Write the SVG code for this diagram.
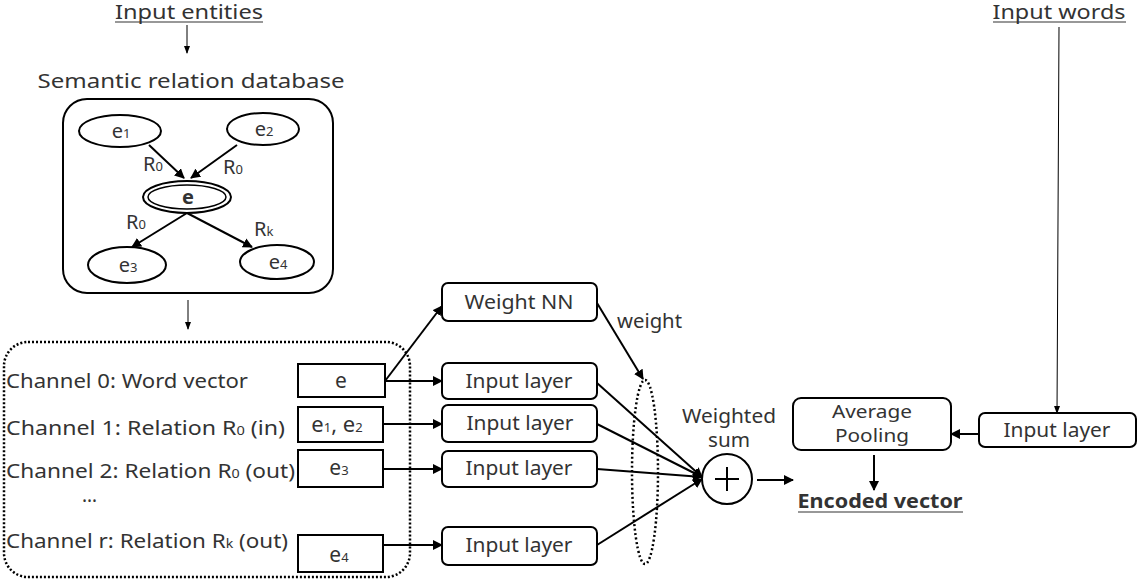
<svg xmlns="http://www.w3.org/2000/svg" width="1142" height="579" viewBox="0 0 1142 579">
<style>
text{font-family:"Noto Sans","Liberation Sans",sans-serif;fill:#333;}
.t{font-size:20px;}
.m{font-size:19px;}
.l{font-size:20px;}
.c{text-anchor:middle;}
.sub{font-size:12px;}
.sb{font-size:13px;}
.box{fill:#fff;stroke:#000;stroke-width:2;}
.ln{stroke:#000;stroke-width:2;fill:none;}
.thin{stroke:#000;stroke-width:1;fill:none;}
.ul{stroke:#333;stroke-width:1.2;}
</style>
<defs>
<marker id="ah" markerWidth="10" markerHeight="10" refX="9" refY="5" orient="auto" markerUnits="userSpaceOnUse">
<path d="M0,0 L10,5 L0,10 Z" fill="#000"/>
</marker>
<marker id="as" markerWidth="8" markerHeight="8" refX="7" refY="4" orient="auto" markerUnits="userSpaceOnUse">
<path d="M0,1 L8,4 L0,7 Z" fill="#000"/>
</marker>
</defs>
<rect width="1142" height="579" fill="#fff"/>

<g id="input-entities">
<text class="t c" x="189" y="19" textLength="148" lengthAdjust="spacingAndGlyphs">Input entities</text>
<line class="ul" x1="115" y1="22" x2="263" y2="22"/>
</g>
<g id="input-words">
<text class="t c" x="1059" y="19" textLength="133" lengthAdjust="spacingAndGlyphs">Input words</text>
<line class="ul" x1="993" y1="22" x2="1126" y2="22"/>
</g>

<g id="database">
<text class="t c" x="191" y="88" font-size="21" textLength="307" lengthAdjust="spacingAndGlyphs">Semantic relation database</text>
<rect x="63" y="99" width="270" height="194" rx="24" fill="#fff" stroke="#000" stroke-width="2"/>
<g id="n-e1"><ellipse class="box" cx="120" cy="131" rx="41" ry="16"/><text class="l c" x="121" y="138">e<tspan class="sb">1</tspan></text></g>
<g id="n-e2"><ellipse class="box" cx="263" cy="129" rx="36" ry="16"/><text class="l c" x="264" y="136">e<tspan class="sb">2</tspan></text></g>
<g id="n-e"><ellipse class="box" cx="187" cy="197" rx="44" ry="16"/><ellipse fill="none" stroke="#000" stroke-width="1.5" cx="187" cy="197" rx="39" ry="12"/><text class="l c" x="188" y="204" font-weight="bold" fill="#222">e</text></g>
<g id="n-e3"><ellipse class="box" cx="127" cy="265" rx="39" ry="18"/><text class="l c" x="128" y="272">e<tspan class="sb">3</tspan></text></g>
<g id="n-e4"><ellipse class="box" cx="277" cy="262" rx="37" ry="17"/><text class="l c" x="278" y="269">e<tspan class="sb">4</tspan></text></g>
<text class="l" x="143" y="171">R<tspan class="sb">0</tspan></text>
<text class="l" x="223" y="174">R<tspan class="sb">0</tspan></text>
<text class="l" x="126" y="229">R<tspan class="sb">0</tspan></text>
<text class="l" x="254" y="236">R<tspan class="sb">k</tspan></text>
</g>

<g id="channels">
<rect x="4" y="342" width="406" height="235" rx="24" fill="none" stroke="#000" stroke-width="2.5" stroke-dasharray="2 2"/>
<text class="m" x="6" y="388" font-size="20" textLength="242" lengthAdjust="spacingAndGlyphs">Channel 0: Word vector</text>
<text class="m" x="6" y="435" font-size="20" textLength="279" lengthAdjust="spacingAndGlyphs">Channel 1: Relation R<tspan class="sub">0</tspan> (in)</text>
<text class="m" x="6" y="478" font-size="20" textLength="289" lengthAdjust="spacingAndGlyphs">Channel 2: Relation R<tspan class="sub">0</tspan> (out)</text>
<text class="m" x="82" y="502" font-size="20">…</text>
<text class="m" x="6" y="548" font-size="20" textLength="282" lengthAdjust="spacingAndGlyphs">Channel r: Relation R<tspan class="sub">k</tspan> (out)</text>
<g id="b-e"><rect class="box" x="298" y="364" width="87" height="33"/><text class="c" font-size="21" x="341" y="388">e</text></g>
<g id="b-e12"><rect class="box" x="298" y="407" width="85" height="35"/><text class="c" font-size="22" x="337" y="432">e<tspan class="sb">1</tspan>, e<tspan class="sb">2</tspan></text></g>
<g id="b-e3"><rect class="box" x="298" y="450" width="85" height="37"/><text class="c" font-size="21" x="339" y="475">e<tspan class="sb">3</tspan></text></g>
<g id="b-e4"><rect class="box" x="298" y="535" width="85" height="37"/><text class="c" font-size="21" x="339" y="562">e<tspan class="sb">4</tspan></text></g>
</g>

<g id="weight-nn"><rect class="box" x="442" y="283" width="155" height="38" rx="6"/><text class="m c" x="519" y="309" textLength="109" lengthAdjust="spacingAndGlyphs">Weight NN</text></g>
<g id="input-layer-0"><rect class="box" x="442" y="363" width="155" height="36" rx="6"/><text class="m c" x="519" y="388" textLength="107" lengthAdjust="spacingAndGlyphs">Input layer</text></g>
<g id="input-layer-1"><rect class="box" x="442" y="405" width="155" height="37" rx="6"/><text class="m c" x="520" y="430" textLength="107" lengthAdjust="spacingAndGlyphs">Input layer</text></g>
<g id="input-layer-2"><rect class="box" x="442" y="451" width="155" height="36" rx="6"/><text class="m c" x="519" y="475" textLength="107" lengthAdjust="spacingAndGlyphs">Input layer</text></g>
<g id="input-layer-r"><rect class="box" x="442" y="527" width="155" height="38" rx="6"/><text class="m c" x="519" y="552" textLength="107" lengthAdjust="spacingAndGlyphs">Input layer</text></g>

<g id="weighted-sum">
<ellipse cx="645" cy="472" rx="13" ry="92" fill="none" stroke="#000" stroke-width="2.5" stroke-dasharray="2 2.5"/>
<circle cx="727" cy="479" r="25" fill="#fff" stroke="#000" stroke-width="2"/>
<line class="ln" x1="715" y1="479" x2="739" y2="479" stroke-width="1.5"/>
<line class="ln" x1="727" y1="467" x2="727" y2="491" stroke-width="1.5"/>
<text class="m c" x="729" y="423" textLength="94" lengthAdjust="spacingAndGlyphs">Weighted</text>
<text class="m c" x="729" y="447" textLength="42" lengthAdjust="spacingAndGlyphs">sum</text>
<text class="m" x="617" y="328" textLength="65" lengthAdjust="spacingAndGlyphs">weight</text>
</g>

<g id="avg-pooling"><rect class="box" x="793" y="398" width="158" height="52" rx="8"/><text class="c" font-size="18" x="872" y="418" textLength="80" lengthAdjust="spacingAndGlyphs">Average</text><text class="c" font-size="18" x="872" y="442" textLength="74" lengthAdjust="spacingAndGlyphs">Pooling</text></g>
<g id="input-layer-words"><rect class="box" x="979" y="413" width="157" height="34" rx="6"/><text class="m c" x="1057" y="437" textLength="107" lengthAdjust="spacingAndGlyphs">Input layer</text></g>

<g id="encoded">
<text class="c" x="880" y="508" font-size="20" font-weight="bold" fill="#222" textLength="165" lengthAdjust="spacingAndGlyphs">Encoded vector</text>
<line class="ul" x1="798" y1="512" x2="963" y2="512" stroke-width="1.5"/>
</g>

<g id="connectors">
<line class="thin" x1="187" y1="25" x2="187" y2="53" marker-end="url(#as)"/>
<line class="thin" x1="188" y1="300" x2="188" y2="329" marker-end="url(#as)"/>
<line class="thin" x1="1059" y1="27" x2="1057" y2="413" marker-end="url(#as)"/>
<line class="ln" x1="149" y1="145" x2="184" y2="178" marker-end="url(#ah)"/>
<line class="ln" x1="237" y1="145" x2="191" y2="178" marker-end="url(#ah)"/>
<line class="ln" x1="187" y1="213" x2="132" y2="247" marker-end="url(#ah)"/>
<line class="ln" x1="187" y1="213" x2="252" y2="247" marker-end="url(#ah)"/>
<line class="ln" x1="385" y1="381" x2="442" y2="381" marker-end="url(#ah)"/>
<line class="ln" x1="385" y1="381" x2="442" y2="306" marker-end="url(#ah)"/>
<line class="ln" x1="383" y1="424" x2="442" y2="424" marker-end="url(#ah)"/>
<line class="ln" x1="383" y1="469" x2="442" y2="469" marker-end="url(#ah)"/>
<line class="ln" x1="383" y1="545" x2="442" y2="545" marker-end="url(#ah)"/>
<line class="ln" x1="597" y1="303" x2="643" y2="379" marker-end="url(#ah)"/>
<line class="ln" x1="597" y1="383" x2="702" y2="477" marker-end="url(#ah)"/>
<line class="ln" x1="597" y1="424" x2="702" y2="477" marker-end="url(#ah)"/>
<line class="ln" x1="597" y1="469" x2="702" y2="477" marker-end="url(#ah)"/>
<line class="ln" x1="597" y1="545" x2="702" y2="479" marker-end="url(#ah)"/>
<line class="ln" x1="757" y1="480" x2="793" y2="480" marker-end="url(#ah)"/>
<line class="ln" x1="979" y1="434" x2="951" y2="434" marker-end="url(#ah)"/>
<line class="ln" x1="874" y1="455" x2="874" y2="490" stroke-width="2.5" marker-end="url(#ah)"/>
</g>
</svg>
